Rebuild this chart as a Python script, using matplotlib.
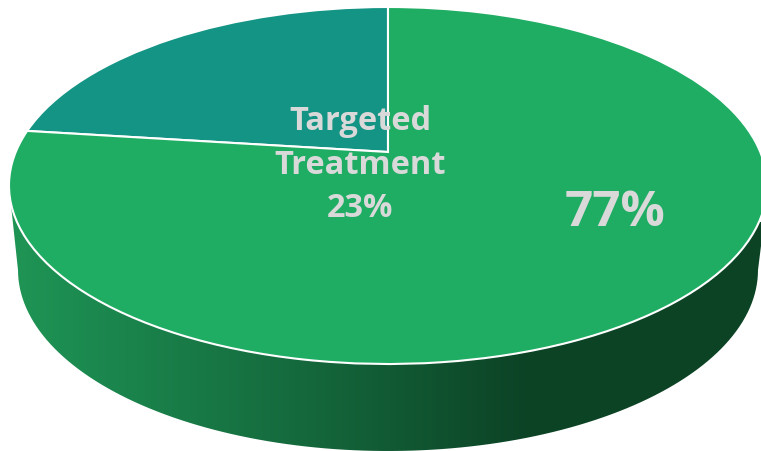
"""Tilted 3D-style pie chart of treatment share."""

import matplotlib

matplotlib.use("Agg")

import matplotlib.pyplot as plt
import numpy as np
from matplotlib.colors import LinearSegmentedColormap
from matplotlib.patches import Polygon
from matplotlib.transforms import Transform


shares = [23, 77]
slice_colors = ["#149484", "#1FAD64"]
slice_labels = ["Targeted\nTreatment\n23%", "77%"]

wall_stops = [0.0, 0.13, 0.38, 0.68, 1.0]
wall_colors = ["#1F9655", "#1B874E", "#156A3D", "#0C4326", "#0C4425"]

TEXT_COLOR = "#D9D9D9"

# perspective of the pie top, in pixels
APEX_X, APEX_Y = 388, 152
TOP_Y, BOTTOM_Y = 7, 364
TOP_RX = 379


class TiltTransform(Transform):
    """Project the unit circle of the pie onto the tilted disc."""

    input_dims = 2
    output_dims = 2
    has_inverse = False

    def __init__(self):
        super().__init__()
        far = APEX_Y - TOP_Y
        near = BOTTOM_Y - APEX_Y
        self.k = (near - far) / (near + far)
        self.b = far * (1 + self.k)
        self.a = TOP_RX * np.sqrt(1 - self.k**2)

    def transform_non_affine(self, values):
        u, v = values[:, 0], values[:, 1]
        w = 1 + self.k * v
        return np.column_stack(
            [APEX_X + self.a * u / w, APEX_Y - self.b * v / w]
        )


def wall_outline():
    """Outline of the side wall, its top edge hidden under the disc."""
    cx, cy, rx, ry = 388, 270, 370, 181
    angles = np.radians(np.linspace(180, 0, 120))
    arc = np.column_stack(
        [cx + rx * np.cos(angles), cy + ry * np.sin(angles)]
    )
    return np.vstack([[(11, 205)], arc, [(764, 222)]])


def main() -> None:
    fig = plt.figure(figsize=(7.61, 4.51), dpi=100)
    ax = fig.add_axes([0, 0, 1, 1])

    gradient = LinearSegmentedColormap.from_list(
        "wall", list(zip(wall_stops, wall_colors))
    )
    image = ax.imshow(
        np.linspace(0, 1, 512).reshape(1, -1),
        cmap=gradient,
        extent=(5, 770, 451, 200),
        aspect="auto",
        interpolation="bilinear",
        zorder=1,
    )
    wall = Polygon(wall_outline(), closed=True, transform=ax.transData)
    image.set_clip_path(wall)

    wedges, _ = ax.pie(shares, colors=slice_colors, startangle=90)
    tilt = TiltTransform()
    for wedge in wedges:
        wedge.set_transform(tilt + ax.transData)
        wedge.set_edgecolor("white")
        wedge.set_linewidth(1.5)
        wedge.set_zorder(2)

    ax.set_aspect("auto")
    ax.set_xlim(0, 761)
    ax.set_ylim(451, 0)
    ax.axis("off")

    ax.text(
        360, 165, slice_labels[0],
        ha="center", va="center",
        family="Open Sans", fontweight="bold",
        fontsize=23.5, linespacing=1.42,
        color=TEXT_COLOR, zorder=3,
    )
    ax.text(
        615, 214, slice_labels[1],
        ha="center", va="center",
        family="Open Sans", fontweight="bold",
        fontsize=35.5,
        color=TEXT_COLOR, zorder=3,
    )

    fig.savefig("out.png", dpi=100)
    plt.close(fig)


if __name__ == "__main__":
    main()
